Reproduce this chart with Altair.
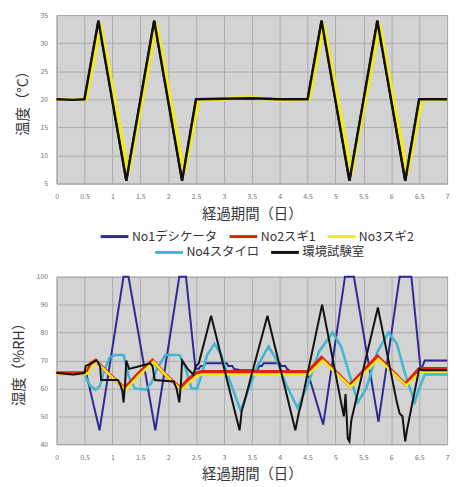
import altair as alt
import pandas as pd

SERIES = ["No1デシケータ", "No2スギ1", "No3スギ2", "No4スタイロ", "環境試験室"]
COLORS = ["#2e2a94", "#e4200c", "#f3ea1a", "#3fb6d2", "#111111"]
X_TICKS = [0, 0.5, 1, 1.5, 2, 2.5, 3, 3.5, 4, 4.5, 5, 5.5, 6, 6.5, 7]
T_TICKS = [5, 10, 15, 20, 25, 30, 35]
H_TICKS = [40, 50, 60, 70, 80, 90, 100]

# ---- temperature (°C) ----
t_black_days = [0, 0.3, 0.5, 0.75, 1.25, 1.75, 2.25, 2.5, 3.0, 3.5, 4.0, 4.5, 4.75, 5.25, 5.75, 6.25, 6.5, 7.0]
t_black_vals = [20, 19.9, 20, 34, 5.5, 34, 5.5, 20, 20.1, 20.2, 20, 20, 34, 5.5, 34, 5.5, 20, 20]
t_yellow_days = [0, 0.53, 0.79, 1.29, 1.79, 2.29, 2.55, 3.0, 3.45, 3.55, 4.0, 4.53, 4.79, 5.29, 5.79, 6.29, 6.55, 7.0]
t_yellow_vals = [20, 20, 33.3, 6.8, 33.3, 6.8, 20, 20, 20.5, 20.3, 19.8, 20, 33.3, 6.8, 33.3, 6.8, 20, 20]

# ---- humidity (%RH) ----
h_blue_days = [0, 0.53, 0.77, 1.2, 1.29, 1.77, 2.2, 2.32, 2.49, 2.55, 2.58, 2.64, 2.67, 3.05, 3.08, 3.15, 3.18, 3.3,
               3.6, 3.63, 3.68, 3.71, 4.0, 4.03, 4.1, 4.13, 4.2, 4.5, 4.78, 5.17, 5.33, 5.77, 6.15, 6.36, 6.53,
               6.56, 6.6, 7.0]
h_blue_vals = [65.5, 65.5, 45, 100, 100, 45, 100, 100, 67, 67, 68, 68, 69, 69, 68, 68, 67, 66.5,
               66.5, 68, 68, 69, 69, 68, 68, 67, 66, 66, 47, 100, 100, 48, 100, 100, 66,
               68, 70, 70]
h_cyan_days = [0, 0.5, 0.6, 0.7, 0.78, 0.85, 0.95, 1.05, 1.2, 1.3, 1.4, 1.6, 1.7, 1.8, 1.95, 2.2, 2.3, 2.42, 2.52,
               2.6, 2.7, 2.83, 2.95, 3.1, 3.3, 3.45, 3.6, 3.8, 3.95, 4.1, 4.32, 4.5, 4.7, 4.95, 5.1, 5.25, 5.4,
               5.55, 5.75, 5.95, 6.1, 6.25, 6.42, 6.5, 6.6, 7.0]
h_cyan_vals = [65, 65, 61, 59.5, 61, 66, 71, 72, 72, 64, 60, 59.5, 62, 67, 72, 72, 68, 60, 60,
               65, 72, 76, 72, 63, 52, 60, 68, 75, 70, 62, 53, 61, 73, 80, 75, 65, 55,
               60, 73, 80, 76, 65, 55, 60, 65, 65]
h_red_days = [0, 0.5, 0.55, 0.62, 0.7, 0.95, 1.22, 1.45, 1.72, 1.95, 2.22, 2.35, 2.5, 2.6, 4.5, 4.75, 5.25, 5.75,
              6.25, 6.5, 7.0]
h_red_vals = [65.5, 65.5, 66, 69, 70, 65, 60, 65, 70, 65, 60, 63, 65.5, 66, 66, 71, 61, 71.5,
              61.5, 67, 67]
h_yellow_days = [0, 0.5, 0.57, 0.64, 0.72, 0.97, 1.24, 1.47, 1.74, 1.97, 2.24, 2.37, 2.52, 2.62, 4.52, 4.77, 5.27,
                 5.77, 6.27, 6.52, 7.0]
h_yellow_vals = [65, 65, 65.5, 68, 69.5, 64.5, 59.5, 64.5, 69.5, 64.5, 59.5, 62, 64.5, 65, 65, 70, 60.5,
                 70.5, 61, 66, 66]
h_black_days = [0, 0.3, 0.5, 0.52, 0.62, 0.72, 0.78, 0.8, 1.1, 1.15, 1.18, 1.2, 1.23, 1.25, 1.3, 1.5, 1.68, 1.72,
                1.76, 2.1, 2.15, 2.2, 2.23, 2.25, 2.35, 2.45, 2.5, 2.55, 2.77, 3.28, 3.32, 3.35, 3.78, 4.28, 4.35,
                4.38, 4.76, 4.8, 5.1, 5.15, 5.18, 5.22, 5.25, 5.28, 5.3, 5.76, 5.8, 6.1, 6.15, 6.2, 6.25, 6.28,
                6.5, 6.55, 7.0]
h_black_vals = [65.5, 65, 65.5, 68, 69, 70, 68, 63, 63, 61, 59, 55, 62, 70, 67, 68, 69, 68,
                63, 62.5, 60, 55, 62, 70, 67, 65, 68, 69, 86, 45, 52, 54, 86, 45, 52,
                54, 90, 86, 55, 50, 58, 42, 41, 48, 50, 89, 85, 55, 51, 50, 41, 45,
                67, 66.5, 66.5]

FONT = "Noto Sans CJK JP"

temp_series = {
    "No1デシケータ": (t_black_days, t_black_vals),
    "No4スタイロ": (t_black_days, t_black_vals),
    "No2スギ1": (t_black_days, t_black_vals),
    "No3スギ2": (t_yellow_days, t_yellow_vals),
    "環境試験室": (t_black_days, t_black_vals),
}
hum_series = {
    "No1デシケータ": (h_blue_days, h_blue_vals),
    "No4スタイロ": (h_cyan_days, h_cyan_vals),
    "No2スギ1": (h_red_days, h_red_vals),
    "No3スギ2": (h_yellow_days, h_yellow_vals),
    "環境試験室": (h_black_days, h_black_vals),
}

temp_width = {"No1デシケータ": 2, "No4スタイロ": 2, "No2スギ1": 2, "No3スギ2": 3.5, "環境試験室": 2.5}
hum_width = {"No1デシケータ": 2, "No4スタイロ": 2.5, "No2スギ1": 3.5, "No3スギ2": 2.5, "環境試験室": 2}

ROW1 = SERIES[:3]
ROW2 = SERIES[3:]
color_scale = alt.Scale(domain=ROW1, range=COLORS[:3])
stroke_scale = alt.Scale(domain=ROW2, range=COLORS[3:])

LEG_COMMON = dict(title=None, orient="none", direction="horizontal",
                  symbolType="M-2,0H2", symbolSize=196, symbolStrokeWidth=3,
                  labelFontSize=12.5, labelColor="#333", labelFont=FONT, labelOffset=9,
                  columnPadding=5, rowPadding=0, padding=0)
legend_a = alt.Legend(columns=3, legendX=50, legendY=215, **LEG_COMMON)
legend_b = alt.Legend(columns=2, legendX=105, legendY=231, **LEG_COMMON)

x_axis = alt.Axis(values=X_TICKS, format="~g", labelFlush=False, title="経過期間（日）",
                  labelPadding=9, titlePadding=8)


def panel(series, widths, y_domain, y_ticks, y_title, show_legend, height):
    layers = []
    for name, (days, vals) in series.items():
        df = pd.DataFrame({"day": days, "value": vals, "series": name})
        enc = dict(
            x=alt.X("day:Q", scale=alt.Scale(domain=[0, 7], nice=False), axis=x_axis),
            y=alt.Y("value:Q", scale=alt.Scale(domain=y_domain, nice=False),
                    axis=alt.Axis(values=y_ticks, title=y_title, labelPadding=9, titlePadding=10)),
        )
        if name in ROW1:
            enc["color"] = alt.Color("series:N", scale=color_scale,
                                     legend=legend_a if show_legend else None)
        else:
            enc["stroke"] = alt.Stroke("series:N", scale=stroke_scale,
                                       legend=legend_b if show_legend else None)
        layers.append(alt.Chart(df).mark_line(strokeWidth=widths[name]).encode(**enc))
    return alt.layer(*layers).properties(width=394, height=height)


top = panel(temp_series, temp_width, [5, 35], T_TICKS, "温度（°C）", True, 170)
bottom = panel(hum_series, hum_width, [40, 100], H_TICKS, "湿度（%RH）", False, 169)

chart = alt.vconcat(top, bottom, spacing=12).resolve_scale(
    color="independent", stroke="independent"
).properties(
    padding={"left": 2, "top": 0, "right": 0, "bottom": 0}
).configure(font=FONT).configure_view(
    fill="#d3d3d3", stroke="#9a9a9a", strokeWidth=1
).configure_axis(
    grid=True, gridColor="#aaaaaa", gridWidth=1, ticks=False, domain=False,
    labelFontSize=7, labelColor="#707070", labelFont=FONT,
    titleFontSize=14.5, titleColor="#333333", titleFontWeight="normal", titleFont=FONT
)

chart.save("out.html", embed_options={"renderer": "svg", "actions": False})
